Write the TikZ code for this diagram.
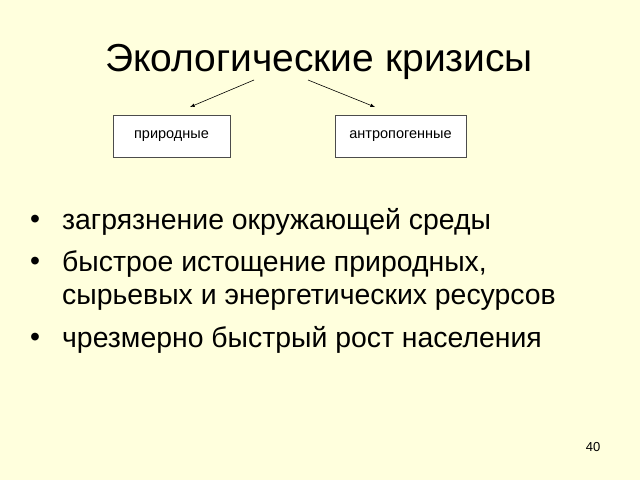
\documentclass[tikz,border=0pt]{standalone}
\usepackage{fontspec}
\setmainfont{Liberation Sans}
\begin{document}
\begin{tikzpicture}[x=1pt,y=-1pt,
  box/.style={draw=black!70,fill=white,minimum width=117pt,minimum height=42pt,inner sep=0pt,font=\fontsize{14.5}{17}\selectfont},
  txt/.style={anchor=west,inner sep=0pt,font=\fontsize{28.4}{33}\selectfont},
  arr/.style={-latex,semithick}]
\fill[fill={rgb,255:red,255;green,255;blue,221}] (0,0) rectangle (640,480);
\useasboundingbox (0,0) rectangle (640,480);
\node[font=\fontsize{39}{46}\selectfont,inner sep=0pt] (title) at (319,62) {Экологические кризисы};
\node[box] (nat) at (171.5,136) {природные};
\node[box,minimum width=131pt] (ant) at (400.5,136) {антропогенные};
\coordinate (s1) at (254,80);
\coordinate (s2) at (308,80);
\draw[arr] (s1) -- (190,107) coordinate (e1);
\draw[arr] (s2) -- (375,107) coordinate (e2);
\node[txt] (b1) at (30,222) {•};
\node[txt] (t1) at (62,222) {загрязнение окружающей среды};
\node[txt] (b2) at (30,264) {•};
\node[txt] (t2) at (62,264) {быстрое истощение природных,};
\node[txt] (t2b) at (62,300) {сырьевых и энергетических ресурсов};
\node[txt] (b3) at (30,340) {•};
\node[txt] (t3) at (62,340) {чрезмерно быстрый рост населения};
\node[font=\fontsize{13}{15}\selectfont,inner sep=0pt] (pg) at (593,447) {40};
\end{tikzpicture}
\end{document}
